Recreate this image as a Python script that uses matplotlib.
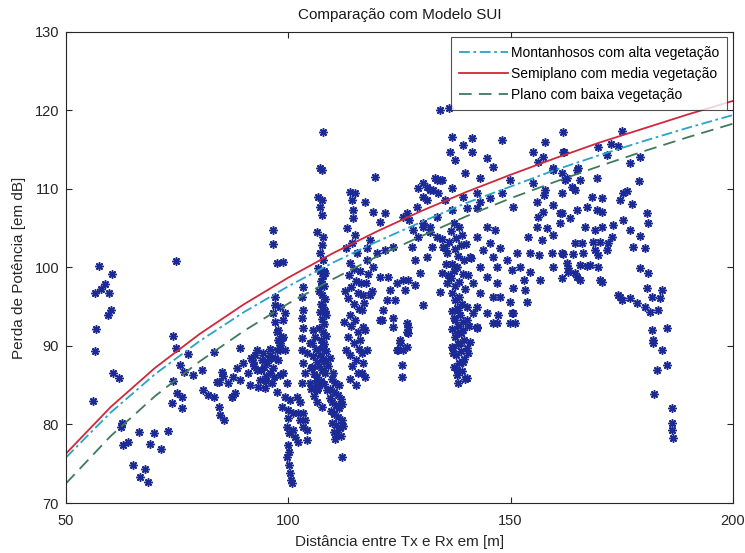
import numpy as np
import matplotlib
matplotlib.use("Agg")
import matplotlib.pyplot as plt

# model curves (SUI)
curve_x = [50, 60, 70, 80, 90, 100, 110, 120, 130, 140, 150, 160, 170, 180, 190, 200]
sui_montanhoso = [75.8, 81.5, 86.4, 90.6, 94.3, 97.6, 100.6, 103.3, 105.8, 108.2,
                  110.3, 112.4, 114.3, 116.1, 117.8, 119.4]
sui_semiplano = [76.3, 82.2, 87.2, 91.5, 95.3, 98.7, 101.8, 104.6, 107.2, 109.6,
                 111.8, 113.9, 115.9, 117.7, 119.5, 121.2]
sui_plano = [72.5, 78.5, 83.6, 88.0, 91.9, 95.4, 98.5, 101.4, 104.0, 106.5,
             108.8, 110.9, 112.9, 114.8, 116.6, 118.3]

# measured points (distance [m], loss [dB]), grouped by area of the plot
pts_left = [
    (57.4, 100.2), (60.3, 99.2), (56.5, 96.8), (57.9, 97.3), (58.8, 97.9), (59.7, 96.8),
    (60.1, 94.6), (59.4, 94.0), (56.7, 92.2), (56.5, 89.4), (56.1, 83.0), (60.6, 86.6),
    (61.9, 85.9), (74.7, 100.8), (74.1, 91.3), (74.7, 89.7), (77.4, 89.0), (83.3, 89.2),
    (89.1, 89.7), (75.6, 87.6), (76.5, 86.7), (78.6, 86.3), (80.6, 86.9), (74.1, 85.5),
    (75.0, 84.0), (76.1, 83.5), (73.8, 82.7), (76.1, 82.1), (80.8, 84.4), (81.9, 83.8),
    (83.3, 83.5), (84.4, 85.4), (85.3, 86.2), (84.4, 82.2), (84.6, 81.2), (85.5, 80.6),
    (87.3, 83.5), (88.0, 84.0), (62.6, 80.2), (62.4, 79.7), (62.8, 77.4), (63.9, 77.8),
    (66.4, 79.0), (69.8, 78.9), (72.9, 79.2), (68.9, 77.5), (71.4, 76.9), (65.1, 74.8),
    (67.8, 74.3), (66.6, 73.3), (68.4, 72.7),
]
pts_cluster90 = [
    (84.0, 85.4), (85.1, 86.7), (86.4, 85.3), (87.6, 86.1), (87.3, 83.5), (88.5, 87.2),
    (89.1, 85.7), (89.8, 87.8), (90.9, 86.6), (91.4, 85.0), (92.1, 88.0), (92.9, 86.9),
    (93.6, 85.7), (94.1, 88.2), (94.5, 87.3), (95.2, 87.8), (95.9, 86.6), (96.5, 87.2),
    (96.3, 85.3), (94.7, 84.6), (93.2, 84.8), (97.0, 88.5), (95.9, 88.9), (94.3, 89.1),
    (92.5, 88.9), (98.1, 86.3), (97.4, 84.1), (93.8, 87.0), (94.9, 86.2), (95.6, 88.3),
    (96.8, 86.0), (92.3, 87.4), (91.6, 88.5), (95.0, 85.5), (93.0, 89.5), (96.0, 89.6),
]
pts_col100 = [
    (96.5, 104.8), (96.5, 103.0), (97.4, 100.6), (98.8, 100.7), (97.0, 96.2), (97.0, 95.2),
    (98.1, 95.0), (99.2, 94.2), (96.5, 94.2), (97.0, 93.1), (97.4, 91.8), (98.6, 91.0),
    (98.1, 90.1), (97.4, 89.5), (97.7, 90.8), (98.1, 89.5), (98.8, 91.1), (97.7, 88.2),
    (98.8, 86.6), (99.7, 85.3), (99.2, 83.5), (98.6, 82.2), (99.9, 81.8), (100.4, 83.1),
    (99.7, 79.7), (100.1, 78.9), (99.9, 77.4), (99.7, 75.9), (100.1, 74.8), (100.4, 73.8),
    (100.6, 72.9), (100.8, 72.5), (101.0, 81.5), (101.9, 83.5), (102.6, 82.9), (102.2, 81.5),
    (103.3, 81.5), (103.7, 80.6), (104.2, 79.3), (103.3, 79.7), (104.2, 78.0), (101.0, 79.3),
    (101.5, 78.4), (102.2, 77.8), (102.6, 80.6), (103.1, 85.3), (103.7, 86.6), (103.3, 87.8),
    (104.2, 89.1), (104.9, 90.4), (105.3, 87.3), (104.9, 85.3), (106.4, 84.4), (103.3, 97.5),
    (103.1, 96.2), (103.3, 94.6), (103.1, 93.6), (103.3, 92.3), (103.1, 91.0), (103.1, 89.5),
    (98.8, 93.3), (97.7, 92.0), (98.1, 90.4), (99.2, 89.5), (100.2, 76.5), (100.0, 80.8),
]
pts_col108 = [
    (107.8, 117.3), (107.1, 112.7), (107.6, 112.4), (106.7, 109.0), (107.6, 108.6),
    (107.1, 107.7), (107.6, 106.7), (106.4, 104.5), (107.8, 103.9), (107.6, 102.9),
    (107.1, 101.8), (107.8, 101.0), (106.7, 99.9), (108.2, 99.3),
    (107.2, 99.5), (107.9, 98.9), (107.4, 98.3), (108.1, 97.6), (107.0, 97.0), (107.7, 96.5),
    (108.3, 96.0), (107.3, 95.4), (107.9, 94.9), (107.1, 94.3), (108.4, 93.9), (107.6, 93.4),
    (108.1, 92.8), (107.0, 92.3), (107.8, 91.8), (108.5, 91.3), (107.3, 90.8), (108.0, 90.3),
    (107.5, 89.8), (108.6, 89.3), (107.1, 88.9), (107.9, 88.4), (108.4, 87.9), (106.9, 87.5),
    (107.6, 87.0), (108.2, 86.5), (106.5, 86.0), (107.4, 85.6), (108.0, 85.1), (106.8, 84.6),
    (107.8, 90.0), (108.3, 94.5), (107.5, 97.8), (108.0, 99.6),
    (105.6, 92.0), (106.0, 91.2), (105.3, 90.4), (106.2, 89.6), (105.5, 88.7), (106.4, 88.0),
    (105.2, 87.2), (105.9, 86.4), (106.3, 85.3), (105.1, 84.5), (105.8, 83.6), (106.5, 82.8),
]
pts_col111 = [
    (109.8, 85.8), (110.6, 85.3), (111.4, 85.0), (109.5, 84.5), (110.3, 84.1), (111.1, 83.7),
    (111.8, 83.3), (109.9, 82.9), (110.7, 82.5), (111.5, 82.1), (109.6, 81.7), (110.4, 81.3),
    (111.2, 81.0), (112.0, 80.6), (109.9, 80.2), (110.8, 79.9), (111.6, 79.5), (110.2, 79.1),
    (111.0, 78.8), (111.9, 78.5), (110.5, 78.2), (109.4, 83.4), (112.2, 82.6), (112.3, 79.8),
    (110.0, 86.6), (109.0, 87.4), (109.3, 88.5), (112.1, 75.9), (107.6, 82.2), (108.7, 84.4),
]
pts_col115 = [
    (113.9, 109.6), (115.0, 109.5), (114.3, 108.6), (114.5, 107.3), (114.5, 106.3),
    (115.0, 104.1), (114.3, 103.1), (115.4, 101.8), (113.9, 100.6), (114.8, 99.8),
    (113.6, 99.0), (115.2, 98.3), (114.1, 97.5), (115.6, 96.8), (113.4, 96.1), (114.7, 95.4),
    (115.9, 94.7), (113.8, 94.0), (115.1, 93.3), (114.2, 92.5), (115.8, 91.8), (113.5, 91.1),
    (114.9, 90.4), (116.0, 89.6), (113.9, 88.9), (115.3, 88.2), (114.4, 87.4), (115.7, 86.6),
    (114.0, 85.8), (115.2, 85.0), (112.8, 97.0), (112.5, 93.0), (113.0, 89.5), (116.4, 98.0),
    (117.0, 95.5), (117.3, 92.0), (118.0, 99.2), (118.3, 96.5), (117.8, 101.0), (112.9, 102.5),
    (113.2, 105.0), (116.6, 94.6), (116.8, 92.4), (116.1, 90.8), (116.6, 89.1), (116.8, 87.8),
    (116.6, 86.6), (117.2, 86.1), (117.7, 89.5), (116.2, 99.5), (117.5, 98.0), (118.8, 97.0),
    (116.9, 96.5),
]
pts_mid = [
    (119.5, 111.5), (117.2, 108.3), (119.0, 107.1), (121.7, 106.9), (120.6, 105.8),
    (118.4, 103.5), (117.7, 102.5), (119.9, 101.8), (121.7, 102.2), (123.5, 102.6),
    (125.8, 106.4), (127.2, 106.0), (129.2, 110.1), (119.0, 100.1), (120.6, 98.8),
    (122.4, 98.8), (122.9, 97.1), (124.4, 98.0), (125.8, 98.4), (126.2, 97.1), (128.5, 97.8),
    (124.0, 95.9), (122.2, 95.9), (121.3, 94.6), (120.6, 93.3), (123.5, 93.6), (123.5, 92.4),
    (126.7, 92.9), (126.7, 91.8), (125.1, 90.8), (124.7, 89.5), (125.8, 89.5), (125.6, 87.6),
    (125.6, 86.1), (130.3, 95.2), (121.1, 93.3), (126.9, 91.7), (124.4, 89.5),
    (128.9, 107.7), (131.2, 110.3), (133.4, 111.1), (134.6, 111.1), (130.3, 109.0),
    (132.5, 109.9), (126.7, 106.9), (128.0, 104.8), (129.2, 103.9), (127.8, 102.6),
    (130.3, 105.2), (131.2, 101.3), (128.5, 101.0), (129.6, 99.3), (126.9, 98.4),
    (134.1, 96.9), (135.7, 98.0), (134.6, 99.3), (134.8, 102.6), (133.4, 103.9),
    (132.3, 102.6), (131.9, 105.2), (126.9, 92.4), (125.1, 90.4), (126.7, 89.9),
]
pts_col138 = [
    (134.1, 120.1), (136.1, 120.3), (136.8, 116.6), (141.3, 116.5), (139.3, 115.6),
    (141.3, 114.7), (136.4, 114.7), (137.5, 113.7), (139.7, 112.0), (143.1, 111.4),
    (130.3, 110.8), (133.0, 111.4), (134.1, 111.1), (131.9, 109.9), (133.7, 109.5),
    (136.8, 110.1), (135.2, 108.6), (131.2, 108.6), (139.3, 109.0), (142.4, 109.5),
    (143.1, 108.3), (145.3, 108.9), (142.4, 107.6), (140.2, 107.6), (136.8, 107.3),
    (133.4, 106.4), (130.3, 105.7), (131.9, 104.5),
    (137.2, 105.6), (138.4, 105.1), (136.5, 104.6), (139.1, 104.1), (137.8, 103.7),
    (136.2, 103.2), (138.9, 102.8), (137.4, 102.3), (135.8, 101.8), (138.2, 101.4),
    (139.6, 100.9), (136.9, 100.5), (138.0, 100.0), (137.3, 99.5), (139.2, 99.1),
    (136.6, 98.6), (138.5, 98.1), (137.6, 97.6), (139.8, 97.2), (136.9, 96.7), (138.3, 96.2),
    (137.4, 95.8), (139.0, 95.3), (137.9, 94.8), (136.8, 94.4), (138.6, 93.9), (137.2, 93.5),
    (139.4, 93.0), (138.1, 92.6), (136.9, 92.1), (138.8, 91.6), (137.5, 91.2), (139.5, 90.7),
    (138.2, 90.2), (137.0, 89.7), (138.9, 89.3), (137.7, 88.8), (139.6, 88.3), (138.4, 87.8),
    (137.3, 87.3), (139.0, 86.8), (138.0, 86.3), (139.8, 85.8), (138.2, 85.3), (140.3, 89.8),
    (140.6, 92.5), (140.1, 95.0), (140.5, 99.0), (141.2, 101.2), (135.5, 100.4),
    (135.2, 102.5), (134.6, 103.6), (136.0, 99.0), (139.9, 103.0), (140.2, 85.9),
    (137.9, 86.9), (139.3, 88.0), (137.0, 89.1), (140.4, 89.1), (138.6, 90.4), (136.8, 89.9),
    (140.8, 90.5), (137.9, 91.7), (139.3, 92.0), (140.2, 93.3), (137.5, 93.3), (141.5, 94.2),
    (138.2, 94.6), (142.4, 92.3),
]
pts_right = [
    (144.7, 113.9), (146.0, 112.8), (148.0, 116.2), (149.8, 111.1), (148.0, 109.5),
    (150.5, 107.7), (144.7, 105.2), (146.5, 104.8), (142.4, 103.9), (145.3, 103.1),
    (143.8, 102.2), (147.6, 102.5), (140.8, 101.3), (146.0, 101.3), (143.1, 100.1),
    (146.9, 100.1), (144.7, 98.8), (141.5, 98.0), (146.9, 98.0), (143.1, 96.8), (146.0, 96.2),
    (142.4, 95.0), (144.7, 94.2), (149.8, 92.9), (150.5, 94.2), (146.9, 92.9), (142.4, 92.4),
    (146.0, 92.9), (147.1, 93.9), (150.3, 94.2), (151.0, 92.9), (153.7, 95.6),
    (155.0, 114.7), (157.3, 114.1), (157.7, 116.0), (161.8, 117.3), (161.8, 114.7),
    (156.1, 113.4), (159.5, 112.4), (162.7, 111.4), (164.5, 109.9), (159.5, 112.7),
    (161.5, 112.0), (165.1, 112.7), (155.0, 110.8), (157.7, 109.9), (157.5, 109.2),
    (155.9, 108.3), (157.3, 107.1), (159.5, 108.0), (161.1, 106.9), (156.1, 106.4),
    (155.9, 105.2), (158.2, 105.0), (161.1, 105.7), (153.9, 103.9), (157.0, 103.5),
    (159.5, 104.1), (154.3, 101.8), (156.5, 101.6), (159.3, 101.8), (161.5, 101.8),
    (151.4, 101.8), (149.2, 101.0), (152.1, 100.1), (154.3, 99.4), (156.6, 98.4),
    (159.5, 100.1), (162.7, 100.6), (162.9, 99.4), (164.9, 98.8), (161.5, 98.7),
    (170.1, 98.4), (150.3, 99.7), (153.0, 98.4), (150.5, 97.4), (153.2, 97.1), (147.6, 96.2),
    (149.8, 95.6), (174.6, 96.2), (176.8, 96.1), (167.8, 100.3),
]
pts_far = [
    (175.0, 117.4), (162.0, 114.7), (169.6, 115.3), (172.7, 115.7), (174.1, 115.5),
    (171.7, 114.3), (176.8, 113.3), (179.1, 114.1), (164.9, 112.4), (162.2, 111.1),
    (165.6, 111.1), (169.4, 111.4), (178.9, 111.0), (163.8, 110.3), (161.5, 109.5),
    (168.3, 109.0), (170.5, 108.9), (175.3, 109.5), (176.2, 109.7), (174.6, 108.6),
    (177.3, 108.1), (167.2, 107.7), (169.4, 107.3), (164.9, 107.3), (161.5, 106.9),
    (163.3, 106.3), (170.5, 107.1), (175.3, 106.1), (180.6, 106.9), (180.9, 105.7),
    (166.7, 105.2), (169.0, 104.8), (170.5, 105.2), (173.0, 105.4), (176.8, 104.8),
    (179.1, 104.0), (172.8, 103.9), (164.5, 103.1), (166.0, 103.1), (168.5, 103.2),
    (170.1, 103.2), (171.9, 103.1), (169.0, 102.2), (177.5, 102.6), (180.2, 102.5),
    (161.8, 101.7), (164.0, 101.7), (166.3, 101.8), (169.6, 101.6), (171.7, 102.2),
    (165.6, 100.3), (167.2, 100.2), (162.9, 99.9), (164.5, 99.3), (169.6, 100.1),
    (179.1, 99.9), (180.9, 99.3), (165.6, 98.4), (170.5, 98.2), (174.1, 96.5), (175.0, 95.9),
    (180.6, 97.4), (184.0, 97.1), (181.8, 96.2), (178.4, 95.5), (180.2, 95.0), (183.6, 96.1),
    (181.3, 94.3), (183.1, 94.6), (181.8, 92.0), (185.1, 92.3), (182.0, 90.8), (182.0, 90.4),
    (184.0, 89.5), (185.1, 87.6), (182.9, 86.9), (182.2, 83.9), (186.3, 82.1), (186.3, 80.2),
    (186.3, 79.3), (186.5, 78.3),
]

groups = [pts_left, pts_cluster90, pts_col100, pts_col108, pts_col111,
          pts_col115, pts_mid, pts_col138, pts_right, pts_far]
medidas = np.array([p for g in groups for p in g])

plt.rcParams['font.family'] = ['Liberation Sans', 'DejaVu Sans']

fig = plt.figure(figsize=(7.45, 5.53), dpi=100)
ax = fig.add_axes([0.0886, 0.0904, 0.895, 0.852])

ax.plot(medidas[:, 0], medidas[:, 1], linestyle='none', marker=(8, 2, 0),
        ms=6, mew=1.1, color='#1c2a95')

l1, = ax.plot(curve_x, sui_montanhoso, color='#2aa3c8', lw=1.3, linestyle=(0, (6, 2, 1.5, 2)),
              label='Montanhosos com alta vegetação')
l2, = ax.plot(curve_x, sui_semiplano, color='#d0283c', lw=1.3, label='Semiplano com media vegetação')
l3, = ax.plot(curve_x, sui_plano, color='#3f7a5a', lw=1.3, linestyle=(0, (7, 4)),
              label='Plano com baixa vegetação')

ax.set_xlim(50, 200)
ax.set_ylim(70, 130)
ax.set_xticks([50, 100, 150, 200])
ax.set_yticks([70, 80, 90, 100, 110, 120, 130])
ax.tick_params(direction='in', top=True, right=True, labelsize=10.5, colors='#262626',
               length=4, width=0.8)
ax.tick_params(axis='x', pad=8)
ax.tick_params(axis='y', pad=5)
for s in ax.spines.values():
    s.set_color('#262626')
    s.set_linewidth(0.8)

ax.set_title('Comparação com Modelo SUI', fontsize=11, color='#1a1a1a', pad=9)
ax.set_xlabel('Distância entre Tx e Rx em [m]', fontsize=11, color='#262626', labelpad=5)
ax.set_ylabel('Perda de Potência [em dB]', fontsize=11, color='#262626', labelpad=6)

leg = ax.legend(handles=[l1, l2, l3], loc='upper right', fontsize=10, frameon=True,
                fancybox=False, edgecolor='#262626', handlelength=3.5, handletextpad=0.2,
                borderaxespad=0.4, labelspacing=0.5, borderpad=0.6)
leg.get_frame().set_linewidth(0.8)

fig.savefig('out.png', dpi=100)
